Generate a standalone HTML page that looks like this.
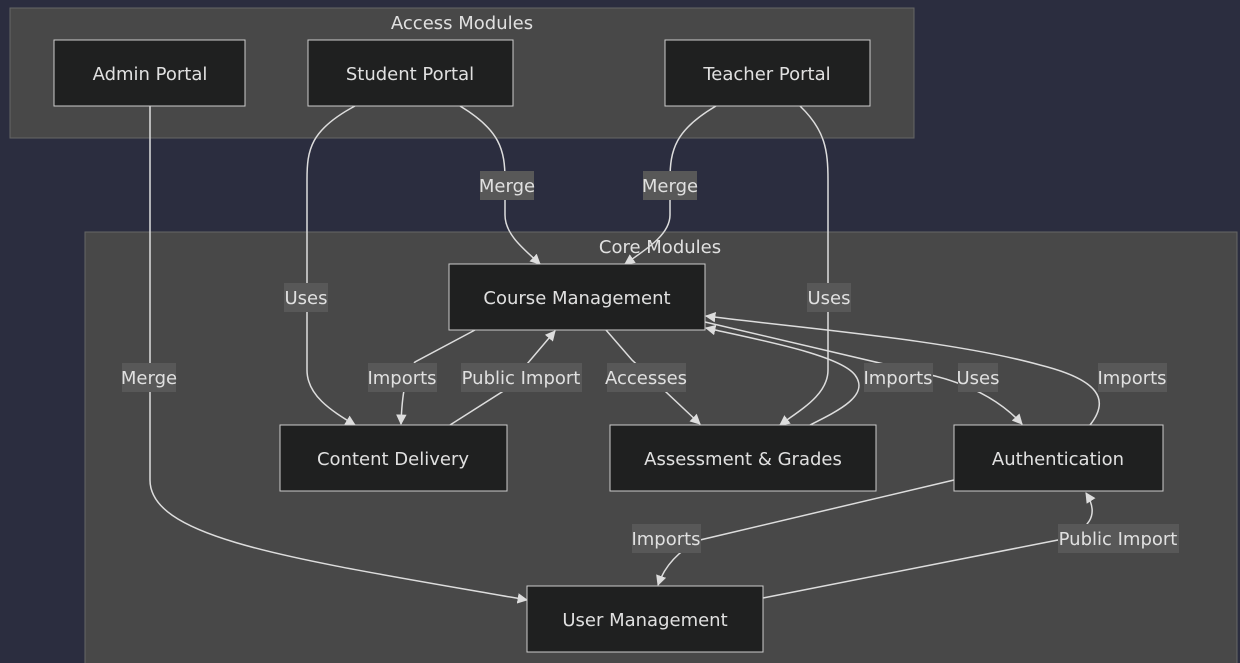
<!DOCTYPE html><html><head><style>body{margin:0;background:#2b2d3f}svg{display:block}text{font-family:"DejaVu Sans","Liberation Sans",sans-serif;fill:#e0e0e0;font-size:18px}</style></head><body>
<svg width="1240" height="663" viewBox="0 0 1240 663">
<defs><marker id="a" viewBox="0 0 10 10" refX="9" refY="5" markerWidth="7" markerHeight="7" orient="auto"><path d="M0,0L10,5L0,10z" fill="#ddd"/></marker></defs>
<rect x="10" y="8" width="904" height="130" fill="#484848" stroke="#666"/>
<rect x="85" y="232" width="1152" height="440" fill="#484848" stroke="#666"/>
<text x="462" y="29" text-anchor="middle">Access Modules</text>
<text x="660" y="253" text-anchor="middle">Core Modules</text>
<g fill="none" stroke="#ddd" stroke-width="1.5" marker-end="url(#a)">
<path d="M150,106 L150,480 C150,540 300,560 527,600"/>
<path d="M355,106 C310,130 307,150 307,180 L307,370 C307,395 330,410 355,425"/>
<path d="M460,106 C500,130 505,150 505,180 L505,215 C505,235 525,250 540,264"/>
<path d="M716,106 C675,130 670,150 670,180 L670,215 C670,235 645,250 625,264"/>
<path d="M800,106 C825,130 828,150 828,180 L828,370 C828,395 800,410 780,425"/>
<path d="M475,330 L415,362 C405,375 402,395 401,424"/>
<path d="M450,425 L505,390 L555,331"/>
<path d="M606,330 L632,360 L700,424"/>
<path d="M810,425 C840,410 870,395 855,375 C840,355 760,340 706,328"/>
<path d="M705,322 L935,376 C970,385 1000,400 1022,424"/>
<path d="M1090,425 C1110,400 1100,380 1040,365 C950,340 800,328 706,316"/>
<path d="M954,480 L700,540 C680,550 665,565 658,585"/>
<path d="M763,598 L1058,540 C1090,530 1100,515 1086,493"/>
</g>
<g fill="#585858">
<rect x="480" y="171" width="54" height="29"/><rect x="643" y="171" width="54" height="29"/>
<rect x="284" y="283" width="44" height="29"/><rect x="807" y="283" width="44" height="29"/>
<rect x="122" y="363" width="54" height="29"/>
<rect x="368" y="363" width="69" height="29"/><rect x="461" y="363" width="121" height="29"/>
<rect x="607" y="363" width="79" height="29"/><rect x="864" y="363" width="69" height="29"/>
<rect x="958" y="363" width="40" height="29"/><rect x="1098" y="363" width="69" height="29"/>
<rect x="632" y="524" width="69" height="29"/><rect x="1058" y="524" width="121" height="29"/>
</g>
<g text-anchor="middle">
<text x="507" y="192">Merge</text><text x="670" y="192">Merge</text>
<text x="306" y="304">Uses</text><text x="829" y="304">Uses</text>
<text x="149" y="384">Merge</text>
<text x="402" y="384">Imports</text><text x="521" y="384">Public Import</text>
<text x="646" y="384">Accesses</text><text x="898" y="384">Imports</text>
<text x="978" y="384">Uses</text><text x="1132" y="384">Imports</text>
<text x="666" y="545">Imports</text><text x="1118" y="545">Public Import</text>
</g>
<g fill="#1f2020" stroke="#ccc" stroke-width="1">
<rect x="54" y="40" width="191" height="66"/><rect x="308" y="40" width="205" height="66"/><rect x="665" y="40" width="205" height="66"/>
<rect x="449" y="264" width="256" height="66"/><rect x="280" y="425" width="227" height="66"/>
<rect x="610" y="425" width="266" height="66"/><rect x="954" y="425" width="209" height="66"/>
<rect x="527" y="586" width="236" height="66"/>
</g>
<g text-anchor="middle">
<text x="150" y="80">Admin Portal</text><text x="410" y="80">Student Portal</text><text x="767" y="80">Teacher Portal</text>
<text x="577" y="304">Course Management</text><text x="393" y="465">Content Delivery</text>
<text x="743" y="465">Assessment &amp; Grades</text><text x="1058" y="465">Authentication</text>
<text x="645" y="626">User Management</text>
</g>
</svg></body></html>
